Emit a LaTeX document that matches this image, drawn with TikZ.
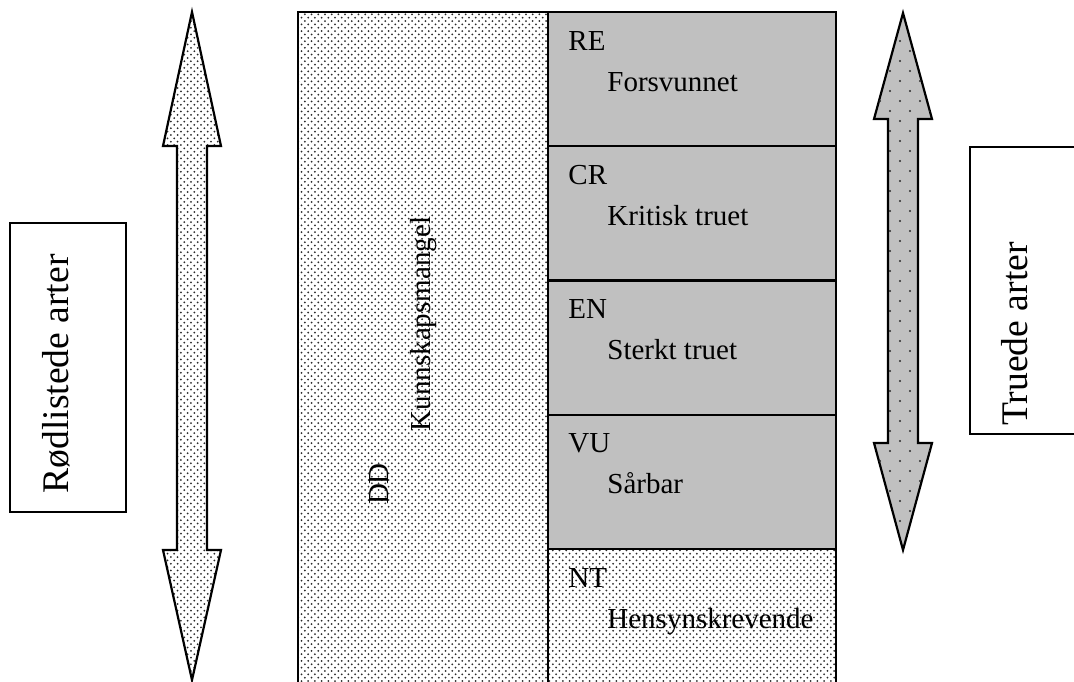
\documentclass[tikz,border=0pt]{standalone}
\usepackage{fontspec}
\setmainfont{Liberation Serif}
\usepackage{tikz}
\usetikzlibrary{patterns, positioning}
\definecolor{boxgray}{HTML}{C0C0C0}
\definecolor{dotgray}{HTML}{2A2A2A}
\pgfdeclarepatternformonly{fine dots}{\pgfqpoint{-1pt}{-1pt}}{\pgfqpoint{2.35pt}{2.35pt}}{\pgfqpoint{3.35pt}{3.35pt}}{%
  \pgfpathcircle{\pgfqpoint{0pt}{0pt}}{.5pt}
  \pgfpathcircle{\pgfqpoint{1.675pt}{1.675pt}}{.5pt}
  \pgfusepath{fill}}
\pgfdeclarepatternformonly{sparse dots}{\pgfqpoint{-2.5pt}{-2.5pt}}{\pgfqpoint{7.5pt}{7.5pt}}{\pgfqpoint{10pt}{10pt}}{%
  \pgfpathcircle{\pgfqpoint{0pt}{0pt}}{.6pt}
  \pgfpathcircle{\pgfqpoint{5pt}{5pt}}{.6pt}
  \pgfusepath{fill}}
\tikzstyle{dotfill} = [draw, line width=1.1pt, pattern=fine dots, pattern color=dotgray]
\tikzstyle{grayfill} = [draw, line width=1.1pt, fill=boxgray]
\tikzstyle{graydots} = [draw, line width=1.1pt, fill=boxgray, postaction={pattern=sparse dots, pattern color=dotgray}]
\tikzstyle{sidebox} = [draw, line width=1pt, fill=white]
\tikzstyle{code} = [anchor=base west, inner sep=0pt, font=\fontsize{14.5}{17}\selectfont]
\tikzstyle{vlabel} = [anchor=base, inner sep=0pt, rotate=90, font=\fontsize{14.5}{17}\selectfont]
\tikzstyle{sidelabel} = [anchor=base, inner sep=0pt, rotate=90, font=\fontsize{18.8}{22}\selectfont]
\begin{document}
\begin{tikzpicture}[x=0.5pt, y=-0.5pt]
			\useasboundingbox (0,0) rectangle (1074,681);
			\clip (0,0) rectangle (1074,681);
			% DD column and category rows
			\path [dotfill] (298,12) rectangle (548,700);
			\path [grayfill] (548,12) rectangle (836,146.25);
			\path [grayfill] (548,146.25) rectangle (836,280.5);
			\path [grayfill] (548,280.5) rectangle (836,414.75);
			\path [grayfill] (548,414.75) rectangle (836,549);
			\path [dotfill] (548,549) rectangle (836,700);
			
			% block arrows
			\path [dotfill] (192,12) -- (221,146) -- (207,146) -- (207,550) -- (221,550) -- (192,680)
				-- (163,550) -- (177,550) -- (177,146) -- (163,146) -- cycle;
			\path [graydots] (903,13) -- (932,119) -- (918,119) -- (918,443) -- (932,443) -- (903,550)
				-- (874,443) -- (888,443) -- (888,119) -- (874,119) -- cycle;
			
			% side boxes
			\path [sidebox] (10,223) rectangle (126,512);
			\path [sidebox] (970,147) rectangle (1090,434);
			
			\node [code] (re) at (568,50) {RE};
			\node [code] (forsvunnet) at (607,91) {Forsvunnet};
			\node [code] (cr) at (568,184.25) {CR};
			\node [code] (kritisk) at (607,225.25) {Kritisk truet};
			\node [code] (en) at (568,318.5) {EN};
			\node [code] (sterkt) at (607,359.5) {Sterkt truet};
			\node [code] (vu) at (568,452.75) {VU};
			\node [code] (sarbar) at (607,493.75) {Sårbar};
			\node [code] (nt) at (568,587) {NT};
			\node [code] (hensyn) at (607,628) {Hensynskrevende};
			
			\node [vlabel] (dd) at (388,484) {DD};
			\node [vlabel] (kunnskap) at (430,324) {Kunnskapsmangel};
			\node [sidelabel] (rodliste) at (68,374) {Rødlistede arter};
			\node [sidelabel] (truet) at (1027,334) {Truede arter};
		\end{tikzpicture}
\end{document}
